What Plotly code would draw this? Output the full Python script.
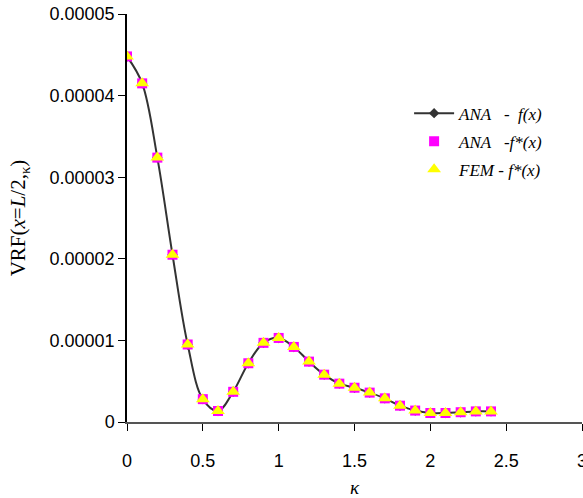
import plotly.graph_objects as go

kappa = [0.0, 0.1, 0.2, 0.3, 0.4, 0.5, 0.6, 0.7, 0.8, 0.9, 1.0, 1.1, 1.2,
         1.3, 1.4, 1.5, 1.6, 1.7, 1.8, 1.9, 2.0, 2.1, 2.2, 2.3, 2.4]
vrf = [4.48e-5, 4.15e-5, 3.24e-5, 2.05e-5, 9.5e-6, 2.8e-6, 1.35e-6, 3.7e-6,
       7.2e-6, 9.7e-6, 1.03e-5, 9.2e-6, 7.4e-6, 5.8e-6, 4.7e-6, 4.2e-6,
       3.6e-6, 2.9e-6, 2.0e-6, 1.4e-6, 1.1e-6, 1.1e-6, 1.2e-6, 1.3e-6, 1.3e-6]
ana_star = vrf
fem_star = vrf

x_ticks = [0, 0.5, 1, 1.5, 2, 2.5, 3]
x_labels = ["0", "0.5", "1", "1.5", "2", "2.5", "3"]
y_ticks = [0, 1e-5, 2e-5, 3e-5, 4e-5, 5e-5]
y_labels = ["0", "0.00001", "0.00002", "0.00003", "0.00004", "0.00005"]

NB = "\u00a0"
name_ana = "<i>ANA" + NB * 3 + "-" + NB * 2 + "f(x)</i>"
name_ana_star = "<i>ANA" + NB * 3 + "-f*(x)</i>"
name_fem = "<i>FEM" + NB + "-" + NB + "f*(x)</i>"

serif = "Times New Roman, Liberation Serif, serif"
sans = "Arial, Liberation Sans, sans-serif"

fig = go.Figure()
fig.add_trace(go.Scatter(
    x=kappa, y=vrf, mode="lines+markers", name=name_ana,
    legendgroup="g1",
    line=dict(color="#333333", width=2, shape="spline", smoothing=1.0),
    marker=dict(symbol="diamond", size=8, color="#333333"),
))
fig.add_trace(go.Scatter(
    x=kappa, y=ana_star, mode="markers", name=name_ana_star,
    legendgroup="g2",
    marker=dict(symbol="square", size=10, color="#FF00FF"),
))
fig.add_trace(go.Scatter(
    x=kappa, y=fem_star, mode="markers", name=name_fem,
    legendgroup="g3",
    marker=dict(symbol="triangle-up", size=12, color="#FFFF00"),
))

fig.update_layout(
    width=583, height=498,
    margin=dict(l=127, r=1, t=14, b=76),
    paper_bgcolor="white", plot_bgcolor="white",
    showlegend=True,
    legend=dict(x=0.62, y=0.80, xanchor="left", yanchor="top",
                font=dict(family=serif, size=17, color="black"),
                bgcolor="rgba(0,0,0,0)", itemwidth=40, tracegroupgap=3),
    xaxis=dict(range=[0, 3], tickvals=x_ticks, ticktext=x_labels,
               automargin=False,
               showgrid=False, zeroline=False,
               showline=True, linecolor="#555555", linewidth=2,
               ticks="outside", ticklen=7, tickcolor="black", tickwidth=1,
               ticklabelstandoff=14, ticklabeloverflow="allow",
               tickfont=dict(family=sans, size=18, color="black"),
               title=dict(text="<i>κ</i>", font=dict(family=serif, size=19, color="black"),
                          standoff=12)),
    yaxis=dict(range=[0, 5e-5], tickvals=y_ticks, ticktext=y_labels,
               automargin=False,
               showgrid=False, zeroline=False,
               showline=True, linecolor="black", linewidth=1.5,
               ticks="outside", ticklen=7, tickcolor="black", tickwidth=1,
               tickfont=dict(family=sans, size=18, color="black"),
               title=dict(text="VRF(<i>x</i>=<i>L</i>/2,<sub>κ</sub>)",
                          font=dict(family=serif, size=21, color="black"),
                          standoff=18)),
)

fig.write_html("out.html")
